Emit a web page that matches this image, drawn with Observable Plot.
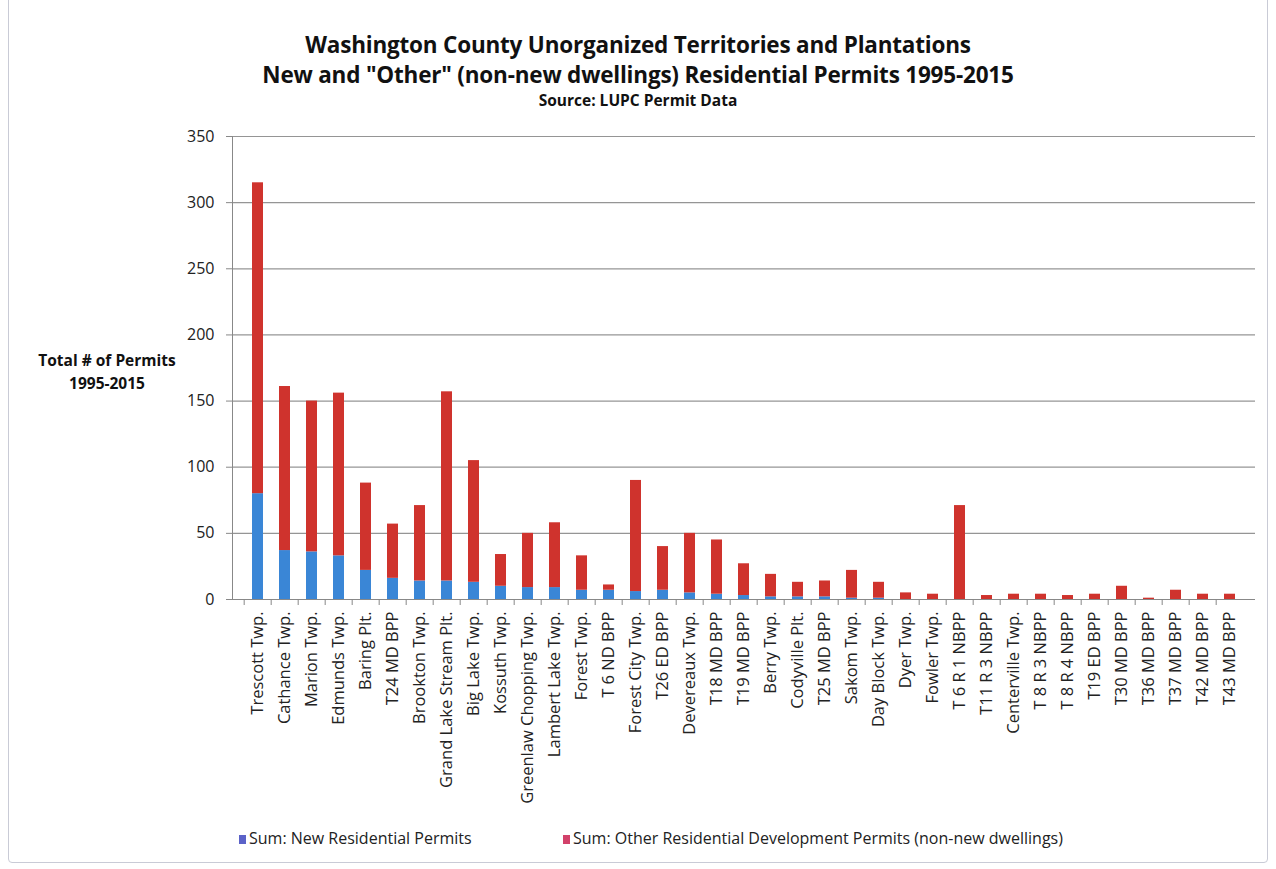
<!DOCTYPE html>
<html>
<head>
<meta charset="utf-8">
<script src="https://cdn.jsdelivr.net/npm/d3@7"></script>
<script src="https://cdn.jsdelivr.net/npm/@observablehq/plot@0.6"></script>
<style>
  html, body { margin: 0; padding: 0; background: #fff; }
  #page { position: relative; width: 1276px; height: 869px; overflow: hidden; font-family: "Open Sans", Lato, sans-serif; }
  #border { position: absolute; left: 8px; top: -10px; width: 1258px; height: 871px; border: 1px solid #c9cbd6; border-radius: 4px; }
  .t { position: absolute; left: 0; width: 1276px; text-align: center; font-weight: bold; color: #111; }
  #chart { position: absolute; left: 0; top: 125px; }
  #ylab { position: absolute; left: 27px; top: 349px; width: 160px; text-align: center; font-weight: bold; font-size: 15.5px; line-height: 23px; color: #111; }
  .leg { position: absolute; top: 827px; font-size: 16px; color: #222; white-space: nowrap; }
  .sw { display: inline-block; width: 7px; height: 9px; margin-right: 3px; vertical-align: 0px; }
</style>
</head>
<body>
<div id="page">
  <div id="border"></div>
  <div class="t" style="top:29px;font-size:22.5px;letter-spacing:-0.2px;">Washington County Unorganized Territories and Plantations</div>
  <div class="t" style="top:59px;font-size:22.5px;letter-spacing:-0.2px;">New and "Other" (non-new dwellings) Residential Permits 1995-2015</div>
  <div class="t" style="top:89px;font-size:15.5px;">Source: LUPC Permit Data</div>
  <div id="ylab">Total # of Permits<br>1995-2015</div>
  <div id="chart"></div>
  <div class="leg" style="left:239px;"><span class="sw" style="background:#5b62c8"></span>Sum: New Residential Permits</div>
  <div class="leg" style="left:563px;"><span class="sw" style="background:#d2416a"></span>Sum: Other Residential Development Permits (non-new dwellings)</div>
</div>
<script>
const categories = ["Trescott Twp.","Cathance Twp.","Marion Twp.","Edmunds Twp.","Baring Plt.","T24 MD BPP","Brookton Twp.","Grand Lake Stream Plt.","Big Lake Twp.","Kossuth Twp.","Greenlaw Chopping Twp.","Lambert Lake Twp.","Forest Twp.","T 6 ND BPP","Forest City Twp.","T26 ED BPP","Devereaux Twp.","T18 MD BPP","T19 MD BPP","Berry Twp.","Codyville Plt.","T25 MD BPP","Sakom Twp.","Day Block Twp.","Dyer Twp.","Fowler Twp.","T 6 R 1 NBPP","T11 R 3 NBPP","Centerville Twp.","T 8 R 3 NBPP","T 8 R 4 NBPP","T19 ED BPP","T30 MD BPP","T36 MD BPP","T37 MD BPP","T42 MD BPP","T43 MD BPP"];
const newPermits   = [80,37,36,33,22,16,14,14,13,10,9,9,7,7,6,7,5,4,3,2,2,2,1,1,0,0,0,0,0,0,0,0,0,0,0,0,0];
const otherPermits = [235,124,114,123,66,41,57,143,92,24,41,49,26,4,84,33,45,41,24,17,11,12,21,12,5,4,71,3,4,4,3,4,10,1,7,4,4];
const seriesNames = ["Sum: New Residential Permits","Sum: Other Residential Development Permits (non-new dwellings)"];
const seriesColors = ["#3a86d6","#cf332d"];
const yTicks = [0,50,100,150,200,250,300,350];

const rows = [];
categories.forEach((c,i) => rows.push({name:c, series:seriesNames[0], value:newPermits[i]}));
categories.forEach((c,i) => rows.push({name:c, series:seriesNames[1], value:otherPermits[i]}));

const W = 1276, mL = 232, mR = 21;
const step = (W - mL - mR) / categories.length;

const chart = Plot.plot({
  width: W, height: 690,
  marginLeft: mL, marginRight: mR, marginTop: 11, marginBottom: 216,
  style: {fontFamily: '"Open Sans", Lato, sans-serif', color: "#222", background: "transparent"},
  x: {domain: categories, paddingInner: 0.6, paddingOuter: 0.3, label: null},
  y: {domain: [0,350], label: null},
  color: {domain: seriesNames, range: seriesColors},
  marks: [
    Plot.gridY(yTicks, {stroke: "#8a8a8a", strokeOpacity: 0.9, strokeWidth: 1.2}),
    Plot.axisY(yTicks, {tickSize: 6, tickPadding: 12, fontSize: 16, stroke: "#888", label: null}),
    Plot.frame({anchor: "left", stroke: "#888"}),
    Plot.barY(rows, {x: "name", y: "value", fill: "series"}),
    Plot.ruleY([0], {stroke: "#888", strokeWidth: 1.2}),
    Plot.axisX({tickSize: 6, dx: -step/2, stroke: "#888", tickFormat: () => "", label: null}),
    Plot.axisX({tickSize: 0, tickRotate: -90, tickPadding: 12, fontSize: 16.5, fill: "#222", label: null})
  ]
});
document.getElementById("chart").appendChild(chart);
</script>
</body>
</html>
